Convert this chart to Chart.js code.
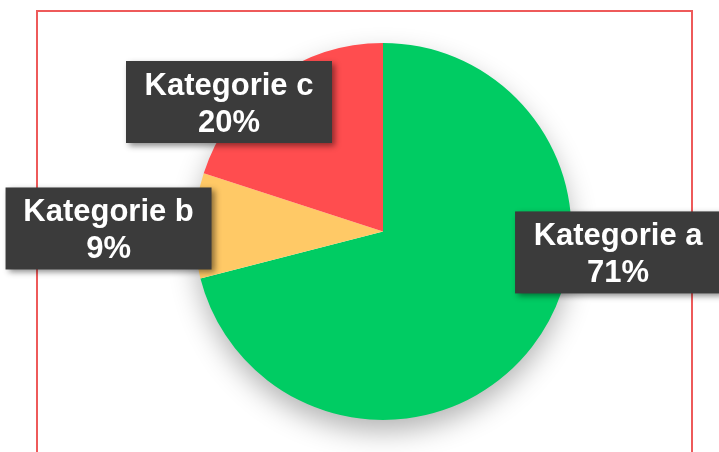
<!DOCTYPE html>
<html>
<head>
<meta charset="utf-8">
<script src="https://cdn.jsdelivr.net/npm/chart.js@4/dist/chart.umd.min.js"></script>
<style>
  html, body { margin: 0; padding: 0; background: #fff; overflow: hidden; }
  #wrap { position: relative; width: 719px; height: 452px; }
  #frame {
    position: absolute; left: 36px; top: 10px; width: 653px; height: 460px;
    border: 2px solid #ee5a5a;
  }
  #chart { position: absolute; left: 0; top: 0; }
</style>
</head>
<body>
<div id="wrap">
  <div id="frame"></div>
  <canvas id="chart" width="719" height="452"></canvas>
</div>
<script>
const categories = ["Kategorie a", "Kategorie b", "Kategorie c"];
const shares = [71, 9, 20];
const sliceColors = ["#00cc63", "#ffc966", "#ff4d4f"];

// where each callout box sits, relative to the pie centre, in units of radius
const calloutAnchors = [
  { fx: 1.247, fy: 0.111 },
  { fx: -1.456, fy: -0.016 },
  { fx: -0.817, fy: -0.687 }
];

// one soft shadow under the whole pie, so slices don't shade each other
const pieShadow = {
  id: "pieShadow",
  beforeDatasetsDraw(chart) {
    const c = chart.ctx;
    const arc = chart.getDatasetMeta(0).data[0];
    if (!arc) return;
    const p = arc.getProps(["x", "y", "outerRadius"], true);
    c.save();
    c.shadowColor = "rgba(0,0,0,0.3)";
    c.shadowBlur = 28;
    c.shadowOffsetX = 0;
    c.shadowOffsetY = 12;
    c.fillStyle = "#ffffff";
    c.beginPath();
    c.arc(p.x, p.y, p.outerRadius - 1, 0, Math.PI * 2);
    c.fill();
    c.restore();
  }
};

const callouts = {
  id: "callouts",
  afterDraw(chart) {
    const c = chart.ctx;
    const meta = chart.getDatasetMeta(0);
    const total = shares.reduce((s, v) => s + v, 0);
    const w = 206, h = 82;
    meta.data.forEach(function (arc, i) {
      const p = arc.getProps(["x", "y", "outerRadius"], true);
      const a = calloutAnchors[i];
      const bx = p.x + a.fx * p.outerRadius;
      const by = p.y + a.fy * p.outerRadius;
      c.save();
      c.shadowColor = "rgba(0,0,0,0.45)";
      c.shadowBlur = 6;
      c.shadowOffsetX = 3;
      c.shadowOffsetY = 3;
      c.fillStyle = "#3b3b3b";
      c.fillRect(bx - w / 2, by - h / 2, w, h);
      c.restore();
      c.save();
      c.fillStyle = "#ffffff";
      c.font = "bold 31px 'Liberation Sans', Arial, sans-serif";
      c.textAlign = "center";
      c.textBaseline = "alphabetic";
      c.fillText(categories[i], bx, by - 7);
      c.fillText(Math.round(shares[i] / total * 100) + "%", bx, by + 30);
      c.restore();
    });
  }
};

new Chart(document.getElementById("chart"), {
  type: "pie",
  data: {
    labels: categories,
    datasets: [{
      data: shares,
      backgroundColor: sliceColors,
      borderWidth: 0,
      hoverOffset: 0
    }]
  },
  options: {
    responsive: false,
    animation: false,
    events: [],
    layout: { padding: { left: 194.5, right: 147.5, top: 43, bottom: 32 } },
    plugins: {
      legend: { display: false },
      tooltip: { enabled: false }
    }
  },
  plugins: [pieShadow, callouts]
});
</script>
</body>
</html>
